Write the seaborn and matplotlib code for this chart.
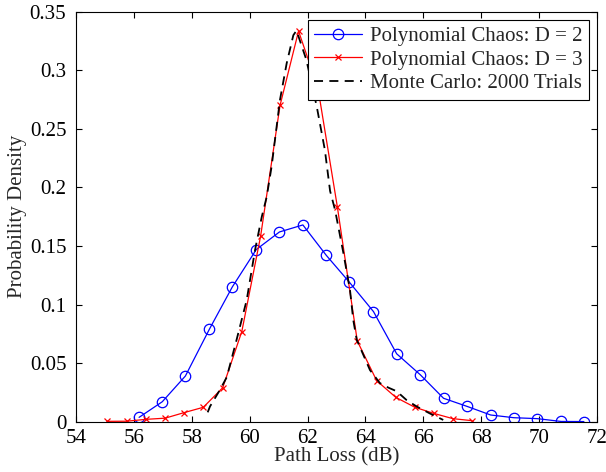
import matplotlib
matplotlib.use("Agg")
import matplotlib.pyplot as plt
import matplotlib.ticker as mticker
import seaborn as sns
import pandas as pd

# Polynomial Chaos D = 2
pc2_x = [56.18, 56.98, 57.78, 58.61, 59.40, 60.23, 61.03, 61.84, 62.65, 63.45,
         64.28, 65.08, 65.90, 66.70, 67.52, 68.33, 69.13, 69.94, 70.76, 71.55]
pc2_y = [0.0037, 0.017, 0.039, 0.079, 0.115, 0.147, 0.162, 0.168, 0.142, 0.119,
         0.094, 0.058, 0.040, 0.020, 0.013, 0.0057, 0.0034, 0.0026, 0.0002, 0.0001]

# Polynomial Chaos D = 3
pc3_x = [55.08, 55.75, 56.42, 57.08, 57.73, 58.40, 59.07, 59.73, 60.38, 61.05,
         61.69, 62.36, 63.03, 63.72, 64.39, 65.05, 65.71, 66.36, 67.02, 67.67]
pc3_y = [0.0003, 0.0004, 0.002, 0.003, 0.0077, 0.0123, 0.029, 0.077, 0.1585, 0.270,
         0.3335, 0.285, 0.1836, 0.0689, 0.035, 0.0208, 0.0123, 0.0071, 0.0026, 0.0009]

# Monte Carlo: 2000 Trials
mc_x = [58.55, 58.63, 58.97, 59.21, 59.55, 59.90, 60.19, 60.42, 60.59, 60.76,
        61.05, 61.28, 61.51, 61.62, 61.96, 62.32, 62.60, 62.78, 62.95, 63.24,
        63.47, 63.58, 63.70, 64.16, 64.50, 64.80, 65.08, 65.42, 65.77, 66.23, 66.69]
mc_y = [0.008, 0.013, 0.027, 0.038, 0.070, 0.104, 0.147, 0.175, 0.192, 0.218,
        0.275, 0.306, 0.330, 0.334, 0.309, 0.269, 0.232, 0.197, 0.181, 0.144,
        0.112, 0.087, 0.070, 0.044, 0.033, 0.029, 0.026, 0.0185, 0.013, 0.007, 0.0015]

labels = ["Polynomial Chaos: D = 2", "Polynomial Chaos: D = 3", "Monte Carlo: 2000 Trials"]
x_ticks = [54, 56, 58, 60, 62, 64, 66, 68, 70, 72]
y_ticks = [0, 0.05, 0.1, 0.15, 0.2, 0.25, 0.3, 0.35]

sns.set_theme(style="ticks")
plt.rcParams['font.family'] = ['Liberation Serif', 'DejaVu Serif']

fig = plt.figure(figsize=(6.06, 4.72), dpi=100)
ax = fig.add_axes([0.1254, 0.1066, 0.985 - 0.1254, 0.975 - 0.1066])

df2 = pd.DataFrame({"x": pc2_x, "y": pc2_y})
df3 = pd.DataFrame({"x": pc3_x, "y": pc3_y})
dfm = pd.DataFrame({"x": mc_x, "y": mc_y})

sns.lineplot(data=df2, x="x", y="y", ax=ax, color=(0, 0, 1), linewidth=0.9,
             marker='o', markersize=7.5, markerfacecolor='none',
             markeredgecolor=(0, 0, 1), markeredgewidth=0.9, label=labels[0])
sns.lineplot(data=df3, x="x", y="y", ax=ax, color=(1, 0, 0), linewidth=0.9,
             marker='x', markersize=5, markeredgecolor=(1, 0, 0),
             markeredgewidth=0.9, label=labels[1])
sns.lineplot(data=dfm, x="x", y="y", ax=ax, color='black', linewidth=1.3,
             label=labels[2])
ax.lines[-1].set_linestyle((0, (5, 3.5)))

ax.set_xlim(54, 72)
ax.set_ylim(0, 0.35)
ax.set_xticks(x_ticks)
ax.set_yticks(y_ticks)
ax.yaxis.set_major_formatter(mticker.FuncFormatter(lambda v, p: "%g" % round(v, 4)))
ax.tick_params(direction='in', length=4, width=0.8, top=True, right=True,
               labelsize=15, colors='black')
ax.tick_params(axis='x', pad=5)
ax.tick_params(axis='y', pad=7)
for s in ax.spines.values():
    s.set_visible(True)
    s.set_linewidth(0.8)
    s.set_color('black')
ax.set_xlabel("Path Loss (dB)", fontsize=15, labelpad=0)
ax.set_ylabel("Probability Density", fontsize=15, labelpad=2)

leg = ax.legend(loc='upper right', fontsize=15, frameon=True, fancybox=False,
                edgecolor='black', framealpha=1, borderaxespad=0.4,
                handlelength=2.3, handletextpad=0.35, borderpad=0.3,
                labelspacing=0.2)
leg.get_frame().set_linewidth(0.8)

fig.savefig("out.png", dpi=100)
